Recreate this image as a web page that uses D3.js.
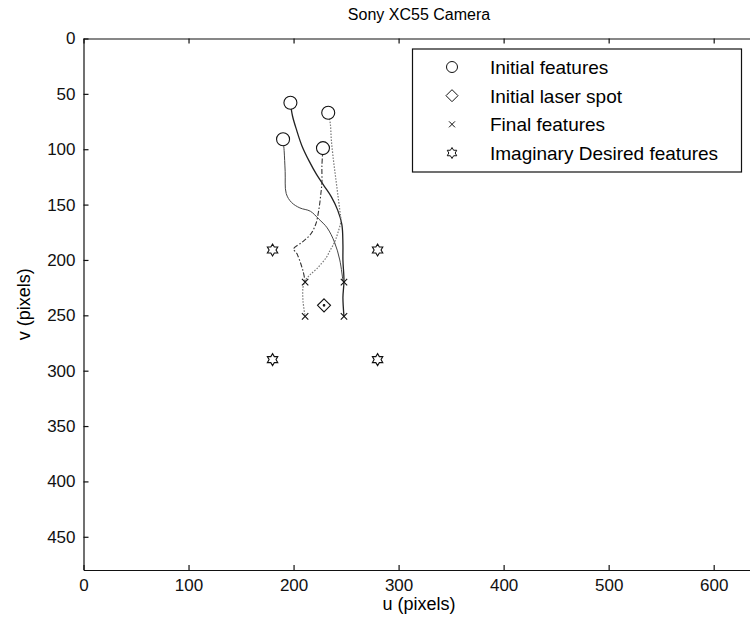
<!DOCTYPE html>
<html>
<head>
<meta charset="utf-8">
<script src="https://cdn.jsdelivr.net/npm/d3@7"></script>
<style>
  body { margin: 0; background: #fff; }
  svg { font-family: Arial, "Liberation Sans", sans-serif; }
  .axis text { font-size: 17px; fill: #111; }
  .axis path, .axis line { stroke: #111; stroke-width: 1.2; }
</style>
</head>
<body>
<div id="chart"></div>
<script>
// Marker positions (image coordinates, pixels)
const initialFeatures = [[197, 58], [233, 67], [190, 91], [228, 99]];
const laserSpot = [[229, 241]];
const finalFeatures = [[211, 220], [248, 220], [211, 251], [248, 251]];
const desiredFeatures = [[180, 191], [280, 191], [180, 290], [280, 290]];

// Feature trajectories, from each initial feature to its final position
const track1 = [[197, 58], [199, 70], [203, 83], [208, 97], [215, 111], [222, 123], [229, 133], [236, 143],
                [242, 155], [246, 168], [247, 186], [247, 200], [248, 219], [247, 234], [248, 251]];
const track2 = [[233, 67], [235, 77], [236, 92], [238, 110], [240, 125], [242, 140], [244, 155], [245, 165],
                [242, 176], [239, 184], [235, 191], [231, 198], [222, 208], [215, 214], [211, 219],
                [209, 225], [209, 237], [211, 251]];
const track3 = [[190, 91], [191, 101], [192, 120], [193, 140], [198, 148], [206, 153], [216, 156],
                [224, 163], [232, 171], [239, 184], [244, 200], [247, 219]];
const track4 = [[228, 99], [227, 115], [227, 130], [226, 140], [224, 155], [221, 168], [216, 177],
                [208, 184], [200, 190], [203, 194], [206, 201], [209, 210], [211, 219]];

const xTicks = [0, 100, 200, 300, 400, 500, 600];
const yTicks = [0, 50, 100, 150, 200, 250, 300, 350, 400, 450];
const legendLabels = ["Initial features", "Initial laser spot", "Final features", "Imaginary Desired features"];

const width = 750, height = 631;
const svg = d3.select("#chart").append("svg")
    .attr("width", width)
    .attr("height", height);

const x = d3.scaleLinear().domain([0, 640]).range([83.5, 755.7]);
const y = d3.scaleLinear().domain([0, 480]).range([38.5, 570]);

// Axes box with inward ticks (MATLAB style)
svg.append("g").attr("class", "axis")
    .attr("transform", `translate(0,${y(480)})`)
    .call(d3.axisBottom(x).tickValues(xTicks).tickSize(-5).tickPadding(9).tickSizeOuter(0));
svg.append("g").attr("class", "axis")
    .attr("transform", `translate(${x(0)},0)`)
    .call(d3.axisLeft(y).tickValues(yTicks).tickSize(-5).tickPadding(8).tickSizeOuter(0));
svg.append("g").attr("class", "axis")
    .attr("transform", `translate(0,${y(0)})`)
    .call(d3.axisTop(x).tickValues(xTicks).tickSize(-5).tickSizeOuter(0).tickFormat(""));
svg.append("g").attr("class", "axis")
    .attr("transform", `translate(${x(640)},0)`)
    .call(d3.axisRight(y).tickValues(yTicks).tickSize(-5).tickSizeOuter(0).tickFormat(""));

// Titles
svg.append("text")
    .attr("x", 419).attr("y", 20)
    .attr("text-anchor", "middle")
    .style("font-size", "16px")
    .text("Sony XC55 Camera");
svg.append("text")
    .attr("x", 419).attr("y", 610)
    .attr("text-anchor", "middle")
    .style("font-size", "18px")
    .text("u (pixels)");
svg.append("text")
    .attr("transform", `translate(30,${(y(0) + y(480)) / 2}) rotate(-90)`)
    .attr("text-anchor", "middle")
    .style("font-size", "18px")
    .text("v (pixels)");

// Trajectories
const line = d3.line().x(d => x(d[0])).y(d => y(d[1])).curve(d3.curveCatmullRom);
const tracks = [
    {pts: track1, stroke: "#222", dash: null, w: 1.3},
    {pts: track2, stroke: "#777", dash: "1.5,1.5", w: 1.2},
    {pts: track3, stroke: "#444", dash: null, w: 1},
    {pts: track4, stroke: "#333", dash: "5,2,1.5,2", w: 1.1}
];
svg.append("g").selectAll("path")
    .data(tracks)
    .join("path")
    .attr("d", d => line(d.pts))
    .attr("fill", "none")
    .attr("stroke", d => d.stroke)
    .attr("stroke-width", d => d.w)
    .attr("stroke-dasharray", d => d.dash);

// Marker shapes
function hexagram(r) {
    const pts = d3.range(12).map(i => {
        const a = Math.PI / 6 * i - Math.PI / 2;
        const rr = i % 2 === 0 ? r : r / Math.sqrt(3);
        return [rr * Math.cos(a), rr * Math.sin(a)];
    });
    return "M" + pts.map(p => p.join(",")).join("L") + "Z";
}
const diamond = s => `M0,${-s}L${s},0L0,${s}L${-s},0Z`;
const cross = s => `M${-s},${-s}L${s},${s}M${-s},${s}L${s},${-s}`;

const marks = svg.append("g").attr("fill", "none").attr("stroke", "#111").attr("stroke-width", 1.1);

marks.selectAll(".init").data(initialFeatures).join("circle")
    .attr("class", "init")
    .attr("cx", d => x(d[0])).attr("cy", d => y(d[1])).attr("r", 6.5)
    .attr("fill", "#fff");
marks.selectAll(".laser").data(laserSpot).join("path")
    .attr("class", "laser")
    .attr("transform", d => `translate(${x(d[0])},${y(d[1])})`)
    .attr("d", diamond(6.5));
marks.selectAll(".laserdot").data(laserSpot).join("circle")
    .attr("class", "laserdot")
    .attr("cx", d => x(d[0])).attr("cy", d => y(d[1])).attr("r", 0.8)
    .attr("fill", "#111");
marks.selectAll(".final").data(finalFeatures).join("path")
    .attr("class", "final")
    .attr("transform", d => `translate(${x(d[0])},${y(d[1])})`)
    .attr("d", cross(3.2));
marks.selectAll(".desired").data(desiredFeatures).join("path")
    .attr("class", "desired")
    .attr("transform", d => `translate(${x(d[0])},${y(d[1])})`)
    .attr("d", hexagram(6));

// Legend
const legend = svg.append("g");
legend.append("rect")
    .attr("x", 412.5).attr("y", 49).attr("width", 329).attr("height", 123)
    .attr("fill", "#fff").attr("stroke", "#111").attr("stroke-width", 1.2);
const rowY = d3.scalePoint().domain(legendLabels).range([67, 153]);
const symbols = [
    g => g.append("circle").attr("r", 5.5),
    g => g.append("path").attr("d", diamond(6)),
    g => g.append("path").attr("d", cross(3)),
    g => g.append("path").attr("d", hexagram(5.5))
];
legendLabels.forEach((label, i) => {
    const g = legend.append("g")
        .attr("transform", `translate(452,${rowY(label)})`)
        .attr("fill", "none").attr("stroke", "#111").attr("stroke-width", 1);
    symbols[i](g);
    legend.append("text")
        .attr("x", 490).attr("y", rowY(label))
        .attr("dy", "0.36em")
        .style("font-size", "19px")
        .text(label);
});
</script>
</body>
</html>
